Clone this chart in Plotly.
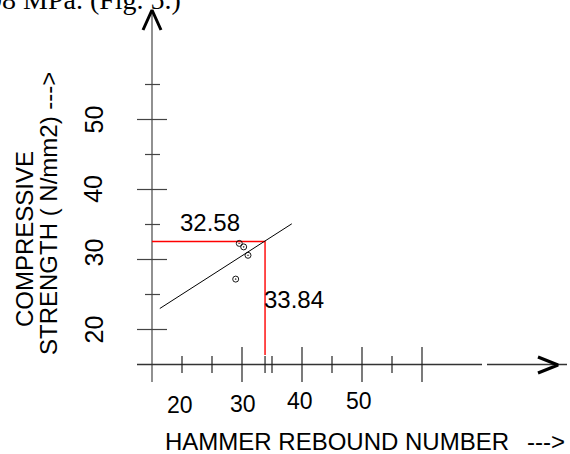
import plotly.graph_objects as go

# ---- data ----
rebound = [29.55, 30.28, 31.0, 28.95]          # hammer rebound number
strength = [32.3, 31.8, 30.6, 27.2]            # compressive strength N/mm2
fit_x = [16.3, 38.3]                           # regression line end points
fit_y = [23.0, 35.1]
read_x = 33.84                                 # read-off rebound value
read_y = 32.58                                 # read-off strength
x_major = [30, 40, 50, 60]
x_minor = [20, 25, 33.84, 35, 45, 55]
y_major = [20, 30, 40, 50]
y_minor = [25, 35, 45, 55]
x_tick_labels = ["20", "30", "40", "50"]
x_tick_label_pos = [19.7, 30.2, 39.7, 49.5]
y_tick_labels = ["20", "30", "40", "50"]
y_tick_label_pos = [20.0, 31.0, 40.1, 50.0]

# ---- geometry (pixels -> data: 6 px per unit in x, 7 px per unit in y, origin (15,15) at px (152,364.5)) ----
X0, Y0 = 15, 15
PX, PY = 6.0, 7.0
W, H = 570, 454
OX, OY = 152, 364.5


def dx(p):
    return X0 + (p - OX) / PX


def dy(p):
    return Y0 + (OY - p) / PY


fig = go.Figure()

AX_COL = "#555555"
TXT_COL = "#000000"


def seg_trace(xs, ys, color, width):
    fig.add_trace(go.Scatter(x=xs, y=ys, mode="lines", line=dict(color=color, width=width),
                             hoverinfo="skip", showlegend=False))


# axes
seg_trace([X0, X0], [dy(382), dy(14)], AX_COL, 1.3)
seg_trace([dx(137), dx(482), None, dx(487), dx(567)], [Y0, Y0, None, Y0, Y0], "#333333", 1.4)

# arrow heads
seg_trace([dx(143), dx(152), dx(161)], [dy(30), dy(10), dy(30)], "#000000", 3)
seg_trace([dx(538), dx(558), dx(538)], [dy(357), dy(365), dy(373)], "#000000", 3.2)

# x ticks
xs, ys = [], []
for v in x_major:
    xs += [v, v, None]
    ys += [dy(347), dy(382), None]
for v in x_minor:
    xs += [v, v, None]
    ys += [dy(356), dy(373), None]
seg_trace(xs, ys, "#222222", 1.2)

# y ticks
xs, ys = [], []
for v in y_major:
    xs += [dx(137), dx(167), None]
    ys += [v, v, None]
for v in y_minor:
    xs += [dx(145), dx(160), None]
    ys += [v, v, None]
seg_trace(xs, ys, "#444444", 1.2)

# red read-off lines
seg_trace([X0, read_x, read_x], [read_y, read_y, dy(355)], "#ff0000", 1.4)

# regression line
seg_trace(fit_x, fit_y, "#000000", 1.0)

# points
fig.add_trace(go.Scatter(x=rebound, y=strength, mode="markers",
                         marker=dict(symbol="circle-open-dot", size=6, color="#000000",
                                     line=dict(width=0.9, color="#000000")),
                         hoverinfo="skip", showlegend=False))

ann = []
lab_font = dict(family="Liberation Sans, Arial, sans-serif", size=22, color=TXT_COL)

ann.append(dict(x=dx(210), y=dy(222), text=f"{read_y:.2f}", showarrow=False,
                xanchor="center", yanchor="middle", font=dict(lab_font, size=24)))
ann.append(dict(x=read_x, y=dy(299), text=f"{read_x:.2f}", showarrow=False,
                xanchor="left", yanchor="middle", xshift=-3, font=dict(lab_font, size=24)))

x_label_y = [405, 404, 401, 401]
for t, p, py in zip(x_tick_labels, x_tick_label_pos, x_label_y):
    ann.append(dict(x=p, y=dy(py), text=t, showarrow=False, xanchor="center",
                    yanchor="middle", font=dict(lab_font, size=23)))
for t, p in zip(y_tick_labels, y_tick_label_pos):
    ann.append(dict(x=dx(93), y=p, text=t, showarrow=False, xanchor="center",
                    yanchor="middle", textangle=-90, font=dict(lab_font, size=25)))

ann.append(dict(x=dx(163), y=dy(441), text="HAMMER REBOUND NUMBER", showarrow=False,
                xanchor="left", yanchor="middle", font=dict(lab_font, size=24)))
ann.append(dict(x=dx(567), y=dy(441), text="--->", showarrow=False,
                xanchor="right", yanchor="middle", font=dict(lab_font, size=24)))
ann.append(dict(x=dx(24), y=dy(239), text="COMPRESSIVE", showarrow=False,
                xanchor="center", yanchor="middle", textangle=-90, font=dict(lab_font, size=24)))
ann.append(dict(x=dx(48), y=dy(214), text="STRENGTH ( N/mm2) --->", showarrow=False,
                xanchor="center", yanchor="middle", textangle=-90, font=dict(lab_font, size=24)))

# clipped caption line from the page above the figure
ann.append(dict(x=183 / W, y=1 + 1 / H, xref="paper", yref="paper", text="98 MPa. (Fig. 5.)",
                showarrow=False, xanchor="right", yanchor="middle",
                font=dict(family="Liberation Serif, Times New Roman, serif", size=28, color="#000000")))

fig.update_layout(
    width=W, height=H,
    margin=dict(l=0, r=0, t=0, b=0, pad=0),
    paper_bgcolor="white", plot_bgcolor="white",
    xaxis=dict(range=[dx(0), dx(W)], visible=False, fixedrange=True),
    yaxis=dict(range=[dy(H), dy(0)], visible=False, fixedrange=True),
    annotations=ann,
    showlegend=False,
)

fig.write_html("out.html", config={"displayModeBar": False},
               post_script="document.body.style.margin='0';document.body.style.overflow='hidden';")
